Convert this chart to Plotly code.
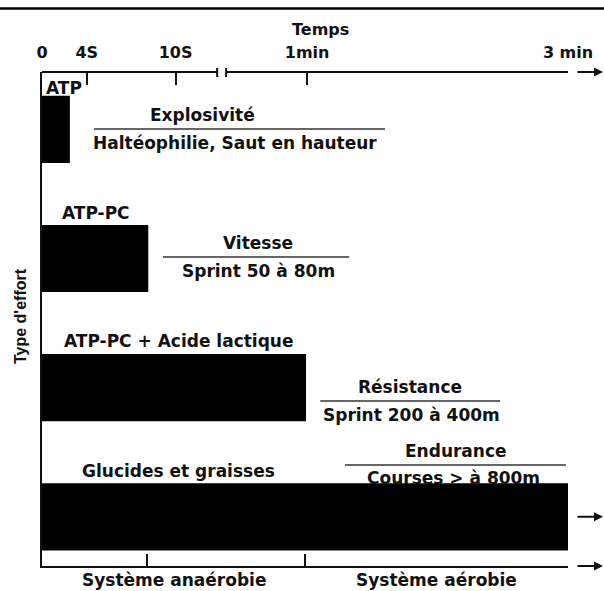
import plotly.graph_objects as go

# ---------------- data ----------------
ENERGY_SYSTEMS = ["ATP", "ATP-PC", "ATP-PC + Acide lactique", "Glucides et graisses"]
BAR_END = [5.3, 20.2, 50.2, 100]          # schematic time units (0 .. 3 min = 100)
ACTIVITY_TITLES = ["Explosivité", "Vitesse", "Résistance", "Endurance"]
ACTIVITY_EXAMPLES = ["Haltéophilie, Saut en hauteur", "Sprint 50 à 80m",
                     "Sprint 200 à 400m", "Courses > à 800m"]
TIME_TICK_POS = [0, 8.5, 25.4, 50.4, 100]
TIME_TICK_LABELS = ["0", "4S", "10S", "1min", "3 min"]
AXIS_BREAK = [33.3, 35.0]
SYSTEM_BOUNDS = [0, 50, 100]
SYSTEM_LABELS = ["Système anaérobie", "Système aérobie"]
BOTTOM_TICKS = [20, 50, 100]

# ---------------- layout config ----------------
W, H = 604, 591
ML, MR, MT, MB = 42, 36, 72, 25
PW, PH = W - ML - MR, H - MT - MB
YR = [3.3806, -0.4444]
INK = "#111111"
FONT = "DejaVu Sans"

# label placement (x data, y offset from row)
LABEL_POS = [(0.4, -0.32, "left"), (10.3, -0.353, "center"),
             (26.0, -0.362, "center"), (26.0, -0.355, "center")]
# activity block: heading x, sub x, line x0, line x1, line y offset from row
ACT_POS = [(30.6, 36.7, 9.9, 65.2, -0.003),
           (41.1, 41.1, 23.0, 58.4, -0.012),
           (70.0, 70.2, 52.9, 87.1, 0.103),
           (78.7, 78.3, 57.6, 99.6, -0.402)]

def px2paper_x(px):
    return (px - ML) / PW

def px2paper_y(py):
    return (H - MB - py) / PH

fig = go.Figure()
rows = list(range(len(ENERGY_SYSTEMS)))
fig.add_trace(go.Bar(
    orientation="h", x=BAR_END, y=rows, base=0, width=0.52,
    marker=dict(color="black", line=dict(width=0)),
    hoverinfo="skip", showlegend=False))
fig.add_trace(go.Scatter(x=[0], y=[0], xaxis="x2", yaxis="y", mode="markers",
                         marker=dict(opacity=0), hoverinfo="skip", showlegend=False))

annotations = []
shapes = []
bold = dict(family=FONT, size=17, color=INK, weight="bold")

for i, name in enumerate(ENERGY_SYSTEMS):
    lx, dy, anc = LABEL_POS[i]
    annotations.append(dict(x=lx, y=i + dy, xref="x", yref="y", text=name,
                            showarrow=False, xanchor=anc, yanchor="middle", font=bold))
    hx, sx, x0, x1, ly = ACT_POS[i]
    yline = i + ly
    annotations.append(dict(x=hx, y=yline - 0.108, xref="x", yref="y",
                            text=ACTIVITY_TITLES[i], showarrow=False,
                            xanchor="center", yanchor="middle", font=bold))
    annotations.append(dict(x=sx, y=yline + 0.105, xref="x", yref="y",
                            text=ACTIVITY_EXAMPLES[i], showarrow=False,
                            xanchor="center", yanchor="middle", font=bold))
    shapes.append(dict(type="line", xref="x", yref="y", x0=x0, x1=x1,
                       y0=yline, y1=yline, line=dict(color="#333333", width=1.5)))

for j, lab in enumerate(SYSTEM_LABELS):
    annotations.append(dict(x=(SYSTEM_BOUNDS[j] + SYSTEM_BOUNDS[j + 1]) / 2,
                            y=px2paper_y(580), xref="x", yref="paper", text=lab,
                            showarrow=False, xanchor="center", yanchor="middle", font=bold))

annotations.append(dict(x=px2paper_x(320), y=px2paper_y(30), xref="paper", yref="paper",
                        text="Temps", showarrow=False, xanchor="center", yanchor="middle",
                        font=dict(family=FONT, size=16, color=INK, weight="bold")))
annotations.append(dict(x=px2paper_x(20), y=px2paper_y(316), xref="paper", yref="paper",
                        text="Type d'effort", textangle=-90, showarrow=False,
                        xanchor="center", yanchor="middle",
                        font=dict(family="Liberation Sans", size=16, color=INK, weight="bold")))

# arrows on the right
for yy, yref in [(1, "paper"), (3, "y"), (0, "paper")]:
    annotations.append(dict(x=px2paper_x(603), y=yy, xref="paper", yref=yref, text="",
                            showarrow=True, ax=-27, ay=0, arrowhead=2, arrowsize=0.9,
                            arrowwidth=2, arrowcolor=INK, standoff=0))

# top axis line with break
shapes.append(dict(type="line", xref="x", yref="paper", x0=0, x1=AXIS_BREAK[0],
                   y0=1, y1=1, line=dict(color=INK, width=2)))
shapes.append(dict(type="line", xref="x", yref="paper", x0=AXIS_BREAK[1], x1=100,
                   y0=1, y1=1, line=dict(color=INK, width=2)))
for xb in AXIS_BREAK:
    shapes.append(dict(type="line", xref="x", yref="paper", ysizemode="pixel", yanchor=1,
                       x0=xb, x1=xb, y0=-5, y1=4, line=dict(color=INK, width=2)))
# top border rule
shapes.append(dict(type="line", xref="paper", yref="paper", x0=px2paper_x(0), x1=px2paper_x(W),
                   y0=px2paper_y(8.5), y1=px2paper_y(8.5), line=dict(color="black", width=2.5)))

fig.update_layout(
    width=W, height=H, autosize=False,
    margin=dict(l=ML, r=MR, t=MT, b=MB, pad=0),
    paper_bgcolor="white", plot_bgcolor="white",
    hovermode=False, showlegend=False,
    xaxis=dict(range=[0, 100], showline=True, linewidth=2, linecolor=INK,
               ticks="inside", tickvals=BOTTOM_TICKS, ticklen=12, tickwidth=2,
               tickcolor=INK, showticklabels=False, showgrid=False, zeroline=False,
               fixedrange=True),
    xaxis2=dict(range=[0, 100], overlaying="x", side="top", anchor="y",
                showline=False, ticks="inside", tickvals=TIME_TICK_POS,
                ticktext=TIME_TICK_LABELS, ticklen=13, tickwidth=2, tickcolor=INK,
                tickfont=dict(family=FONT, size=16, color=INK, weight="bold"),
                ticklabelstandoff=10, showgrid=False, zeroline=False, fixedrange=True),
    yaxis=dict(range=YR, showline=True, linewidth=2, linecolor=INK, ticks="",
               showticklabels=False, showgrid=False, zeroline=False, fixedrange=True),
    annotations=annotations, shapes=shapes,
)

fig.write_html("out.html", config={"displayModeBar": False},
               post_script="document.body.style.margin='0';document.body.style.overflow='hidden';")
